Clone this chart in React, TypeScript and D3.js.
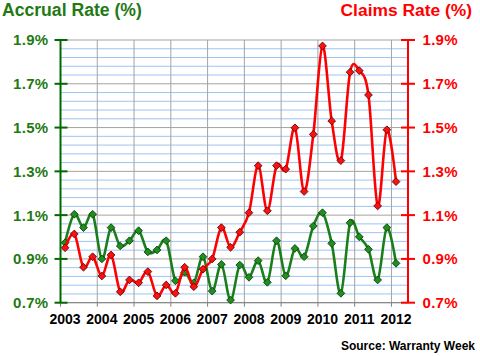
import React from 'react';
import * as d3 from 'd3';

const years = ['2003', '2004', '2005', '2006', '2007', '2008', '2009', '2010', '2011', '2012'];

// quarterly values, 2003 Q1 .. 2012 Q1
const accrualRate = [
  0.974, 1.104, 1.043, 1.104, 0.9, 1.043, 0.959, 0.983, 1.029, 0.932,
  0.941, 0.983, 0.8, 0.839, 0.791, 0.91, 0.753, 0.875, 0.712, 0.872,
  0.816, 0.892, 0.793, 0.983, 0.823, 0.948, 0.91, 1.05, 1.111, 0.971,
  0.743, 1.065, 1.001, 0.944, 0.804, 1.043, 0.88,
];

const claimsRate = [
  0.951, 1.014, 0.862, 0.91, 0.822, 0.918, 0.75, 0.804, 0.791, 0.842,
  0.731, 0.781, 0.743, 0.862, 0.773, 0.853, 0.9, 1.043, 0.953, 1.022,
  1.111, 1.326, 1.12, 1.326, 1.31, 1.499, 1.208, 1.469, 1.873, 1.53,
  1.349, 1.753, 1.76, 1.649, 1.142, 1.49, 1.253,
];

const yTicks = [0.7, 0.9, 1.1, 1.3, 1.5, 1.7, 1.9];
const yMinor = [0.74, 0.78, 0.82, 0.86, 0.94, 0.98, 1.02, 1.06, 1.14, 1.18, 1.22, 1.26,
  1.34, 1.38, 1.42, 1.46, 1.54, 1.58, 1.62, 1.66, 1.74, 1.78, 1.82, 1.86];

const FONT = '"Liberation Sans", Arial, sans-serif';
const GREEN_TEXT = '#1f7a14';
const GREEN_AXIS = '#006a00';
const GREEN_LINE = '#1a7f1a';
const RED = '#ff0000';

export default function App() {
  const W = 480;
  const H = 356;
  const left = 60.5;
  const right = 408;
  const top = 40;
  const bottom = 302.7;

  const x = d3.scaleLinear().domain([-0.5, 37.3]).range([left, right]);
  const y = d3.scaleLinear().domain([0.7, 1.9]).range([bottom, top]);

  const line = d3
    .line<number>()
    .x((_, i) => x(i))
    .y((d) => y(d))
    .curve(d3.curveCatmullRom.alpha(0));

  const diamond = d3.symbol(d3.symbolSquare, 30)()!;

  const gridX = years.map((_, k) => x(4 * k - 0.5));

  const series = [
    { data: accrualRate, line: GREEN_LINE, fill: '#1e8f1e', stroke: '#0a3a0a' },
    { data: claimsRate, line: RED, fill: '#ff1010', stroke: '#5a0000' },
  ];

  return (
    <svg
      width={W}
      height={H}
      style={{ position: 'absolute', left: 0, top: 0, background: '#fff' }}
      fontFamily={FONT}
    >
      <rect x={0} y={0} width={W} height={H} fill="#fff" />
      {/* minor horizontal grid */}
      {yMinor.map((v) => (
        <line key={'m' + v} x1={left} x2={right} y1={y(v)} y2={y(v)} stroke="#9cc4f2" strokeWidth={1} />
      ))}
      {/* major horizontal grid */}
      {yTicks.map((v) => (
        <line key={'M' + v} x1={left} x2={right} y1={y(v)} y2={y(v)} stroke="#a3a3a3" strokeWidth={1} />
      ))}
      {/* vertical grid */}
      {gridX.map((gx, k) => (
        <g key={'v' + k}>
          <line x1={gx} x2={gx} y1={top} y2={bottom} stroke="#a3a3a3" strokeWidth={1} />
          <line x1={gx} x2={gx} y1={bottom} y2={bottom + 4} stroke="#808080" strokeWidth={1} />
        </g>
      ))}
      {/* bottom axis */}
      <line x1={left} x2={right} y1={bottom} y2={bottom} stroke="#808080" strokeWidth={1} />

      {/* series */}
      {series.map((s, si) => (
        <g key={'s' + si}>
          <path d={line(s.data)!} fill="none" stroke={s.line} strokeWidth={2.6} />
          {s.data.map((v, i) => (
            <path
              key={i}
              d={diamond}
              transform={`translate(${x(i)},${y(v)}) rotate(45)`}
              fill={s.fill}
              stroke={s.stroke}
              strokeWidth={0.8}
            />
          ))}
        </g>
      ))}

      {/* left axis */}
      <line x1={left} x2={left} y1={top} y2={bottom} stroke={GREEN_AXIS} strokeWidth={2} />
      {yTicks.map((v) => (
        <g key={'lt' + v}>
          <line x1={left - 6} x2={left + 7} y1={y(v)} y2={y(v)} stroke={GREEN_AXIS} strokeWidth={2} />
          <text
            x={48.5}
            y={y(v)}
            dy="0.36em"
            textAnchor="end"
            fontSize={15}
            fontWeight="bold"
            fill={GREEN_TEXT}
            letterSpacing={0.3}
          >
            {v.toFixed(1)}%
          </text>
        </g>
      ))}

      {/* right axis */}
      <line x1={right} x2={right} y1={top} y2={bottom} stroke={RED} strokeWidth={2} />
      {yTicks.map((v) => (
        <g key={'rt' + v}>
          <line x1={right - 7} x2={right + 7} y1={y(v)} y2={y(v)} stroke={RED} strokeWidth={2} />
          <text
            x={422.5}
            y={y(v)}
            dy="0.36em"
            textAnchor="start"
            fontSize={15}
            fontWeight="bold"
            fill={RED}
            letterSpacing={0.3}
          >
            {v.toFixed(1)}%
          </text>
        </g>
      ))}

      {/* year labels */}
      {years.map((yr, k) => (
        <text key={yr} x={x(4 * k)} y={324} textAnchor="middle" fontSize={14} fontWeight="bold" fill="#000">
          {yr}
        </text>
      ))}

      {/* titles */}
      <text x={2} y={15.5} fontSize={17.6} fontWeight="bold" fill={GREEN_TEXT}>
        Accrual Rate (%)
      </text>
      <text x={472} y={16} textAnchor="end" fontSize={17.4} fontWeight="bold" fill={RED}>
        Claims Rate (%)
      </text>
      <text x={475} y={350} textAnchor="end" fontSize={12} fontWeight="bold" fill="#000">
        Source: Warranty Week
      </text>
    </svg>
  );
}
